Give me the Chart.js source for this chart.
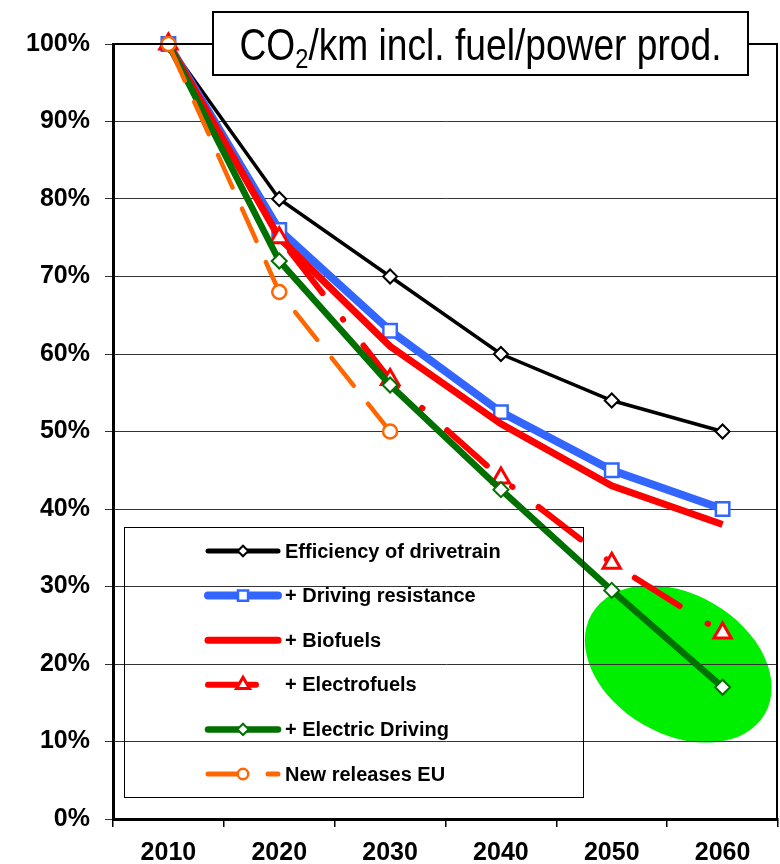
<!DOCTYPE html>
<html>
<head>
<meta charset="utf-8">
<script src="https://cdn.jsdelivr.net/npm/chart.js@4.4.1/dist/chart.umd.min.js"></script>
<style>
  html, body { margin: 0; padding: 0; background: #fff; }
  #wrap { width: 780px; height: 864px; }
</style>
</head>
<body>
<div id="wrap"><canvas id="chart" width="780" height="864"></canvas></div>
<script>
// values (% of 2010 level)
const years = ['2010', '2020', '2030', '2040', '2050', '2060'];
const efficiency = [100, 80, 70, 60, 54, 50];
const drivingResistance = [100, 76, 63, 52.5, 45, 40];
const biofuels = [100, 75, 61, 51, 43, 38];
const electrofuels = [100, 75, 56.7, 44, 33, 24];
const electricDriving = [100, 72, 56, 42.5, 29.5, 17];
const newReleasesEU = [100, 68, 50, null, null, null];

const seriesNames = [
  'Efficiency of drivetrain',
  '+ Driving resistance',
  '+ Biofuels',
  '+ Electrofuels',
  '+ Electric Driving',
  'New releases EU'
];
const yMin = 0, yMax = 100, yStep = 10;
const titleText = ['CO', '2', '/km incl. fuel/power prod.'];
// green highlight around the 2060 electric driving point (x as category index, y in %)
const highlight = { x: 4.6, y: 20 };

const ctx = document.getElementById('chart').getContext('2d');

const highlightPlugin = {
  id: 'highlight',
  beforeDraw(chart) {
    const c = chart.ctx;
    const px = chart.scales.x.getPixelForValue(highlight.x);
    const py = chart.scales.y.getPixelForValue(highlight.y);
    c.save();
    c.fillStyle = '#00ee00';
    c.beginPath();
    c.ellipse(px, py, 100, 70, Math.PI / 6, 0, Math.PI * 2);
    c.fill();
    c.restore();
  }
};

const framePlugin = {
  id: 'frame',
  afterDatasetsDraw(chart) {
    const c = chart.ctx;
    const a = chart.chartArea;
    c.save();
    c.strokeStyle = '#000';
    c.lineWidth = 2;
    c.beginPath();
    c.moveTo(a.left, a.top);
    c.lineTo(a.right - 1, a.top);
    c.lineTo(a.right - 1, a.bottom);
    c.stroke();
    c.restore();
  }
};

const legendPlugin = {
  id: 'boxLegend',
  afterDatasetsDraw(chart) {
    const c = chart.ctx;
    const box = { left: 124, top: 527, right: 583, bottom: 797 };
    c.save();
    c.strokeStyle = '#000';
    c.lineWidth = 1;
    c.strokeRect(box.left + 0.5, box.top + 0.5, box.right - box.left, box.bottom - box.top);
    chart.data.datasets.forEach((ds, i) => {
      const y = 551 + i * 44.6;
      const x0 = 208, x1 = 278, xm = 243;
      c.strokeStyle = ds.borderColor;
      c.lineWidth = Math.max(ds.borderWidth, 5);
      c.lineCap = 'round';
      c.setLineDash(ds.legendDash || []);
      c.beginPath();
      c.moveTo(x0, y);
      c.lineTo(x1, y);
      c.stroke();
      c.setLineDash([]);
      if (ds.pointStyle && ds.pointRadius > 0) {
        c.fillStyle = ds.pointBackgroundColor;
        c.strokeStyle = ds.pointBorderColor;
        c.lineWidth = ds.pointBorderWidth;
        c.lineCap = 'butt';
        Chart.helpers.drawPoint(c, {
          pointStyle: ds.pointStyle,
          radius: ds.pointRadius * 0.75,
          rotation: 0,
          borderWidth: ds.pointBorderWidth
        }, xm, y);
      }
      c.fillStyle = '#000';
      c.font = 'bold 20px "Liberation Sans", Arial, sans-serif';
      c.textBaseline = 'middle';
      c.textAlign = 'left';
      c.fillText(ds.label, 285, y + 1);
    });
    c.restore();
  }
};

const titlePlugin = {
  id: 'boxTitle',
  afterDraw(chart) {
    const c = chart.ctx;
    const bx = 213, by = 12, bw = 535, bh = 63;
    c.save();
    c.fillStyle = '#fff';
    c.fillRect(bx, by, bw, bh);
    c.strokeStyle = '#000';
    c.lineWidth = 2;
    c.strokeRect(bx, by, bw, bh);
    const big = '44px "Liberation Sans", Arial, sans-serif';
    const small = '28px "Liberation Sans", Arial, sans-serif';
    c.font = big;
    const w0 = c.measureText(titleText[0]).width;
    const w2 = c.measureText(titleText[2]).width;
    c.font = small;
    const w1 = c.measureText(titleText[1]).width;
    const total = w0 + w1 + w2;
    const targetW = 482; // narrow look like the original
    const sx = targetW / total;
    c.translate(bx + (bw - targetW) / 2, by + 48);
    c.scale(sx, 1);
    let x = 0;
    c.fillStyle = '#000';
    c.textBaseline = 'alphabetic';
    c.textAlign = 'left';
    c.font = big;
    c.fillText(titleText[0], x, 0);
    x += w0;
    c.font = small;
    c.fillText(titleText[1], x, 8);
    x += w1;
    c.font = big;
    c.fillText(titleText[2], x, 0);
    c.restore();
  }
};

const data = {
  labels: years,
  datasets: [
    {
      label: seriesNames[0],
      data: efficiency,
      borderColor: '#000000',
      borderWidth: 3.5,
      pointStyle: 'rectRot',
      pointRadius: 7,
      pointBackgroundColor: '#ffffff',
      pointBorderColor: '#000000',
      pointBorderWidth: 2,
      order: 5
    },
    {
      label: seriesNames[1],
      data: drivingResistance,
      borderColor: '#3366ff',
      borderWidth: 8,
      pointStyle: 'rect',
      pointRadius: 9.5,
      pointBackgroundColor: '#ffffff',
      pointBorderColor: '#3366ff',
      pointBorderWidth: 2.5,
      order: 4
    },
    {
      label: seriesNames[2],
      data: biofuels,
      borderColor: '#ff0000',
      borderWidth: 7,
      pointStyle: false,
      pointRadius: 0,
      order: 3
    },
    {
      label: seriesNames[3],
      data: electrofuels,
      borderColor: '#ff0000',
      borderWidth: 6,
      borderDash: [53, 33, 0.5, 33],
      borderDashOffset: 118,
      borderCapStyle: 'round',
      legendDash: [48, 100],
      pointStyle: 'triangle',
      pointRadius: 10,
      pointBackgroundColor: '#ffffff',
      pointBorderColor: '#ff0000',
      pointBorderWidth: 3,
      order: 2
    },
    {
      label: seriesNames[4],
      data: electricDriving,
      borderColor: '#007000',
      borderWidth: 6.5,
      pointStyle: 'rectRot',
      pointRadius: 7.5,
      pointBackgroundColor: '#ffffff',
      pointBorderColor: '#007000',
      pointBorderWidth: 2,
      order: 1
    },
    {
      label: seriesNames[5],
      data: newReleasesEU,
      borderColor: '#ff6600',
      borderWidth: 4.5,
      borderDash: [35.5, 23],
      borderDashOffset: 53.75,
      borderCapStyle: 'round',
      legendDash: [35, 25, 10, 100],
      pointStyle: 'circle',
      pointRadius: 7,
      pointBackgroundColor: '#ffffff',
      pointBorderColor: '#ff6600',
      pointBorderWidth: 2.5,
      order: 0
    }
  ]
};

const options = {
  responsive: false,
  animation: false,
  clip: false,
  layout: { autoPadding: false, padding: { top: 44, right: 2, left: 0, bottom: 0 } },
  elements: { line: { tension: 0 } },
  plugins: {
    legend: { display: false },
    title: { display: false },
    tooltip: { enabled: false }
  },
  scales: {
    x: {
      offset: true,
      grid: {
        offset: true,
        drawOnChartArea: false,
        drawTicks: true,
        tickLength: 8,
        color: '#000',
        lineWidth: 1.5
      },
      border: { color: '#000', width: 3 },
      ticks: { font: { family: '"Liberation Sans", Arial, sans-serif', weight: 'bold', size: 25 }, color: '#000', padding: 11, maxRotation: 0 },
      afterFit(scale) {
        scale.height = 45;
        scale.paddingLeft = 0;
        scale.paddingRight = 0;
      }
    },
    y: {
      min: yMin,
      max: yMax,
      grid: { color: '#333', lineWidth: 1, tickLength: 8 },
      border: { color: '#000', width: 3 },
      ticks: {
        stepSize: yStep,
        font: { family: '"Liberation Sans", Arial, sans-serif', weight: 'bold', size: 25 },
        color: '#000',
        padding: 15,
        callback: v => v + '%'
      },
      afterFit(scale) { scale.width = 113; }
    }
  }
};

const lineChart = new Chart(ctx, {
  type: 'line',
  data: data,
  options: options,
  plugins: [highlightPlugin, framePlugin, legendPlugin, titlePlugin]
});
</script>
</body>
</html>
